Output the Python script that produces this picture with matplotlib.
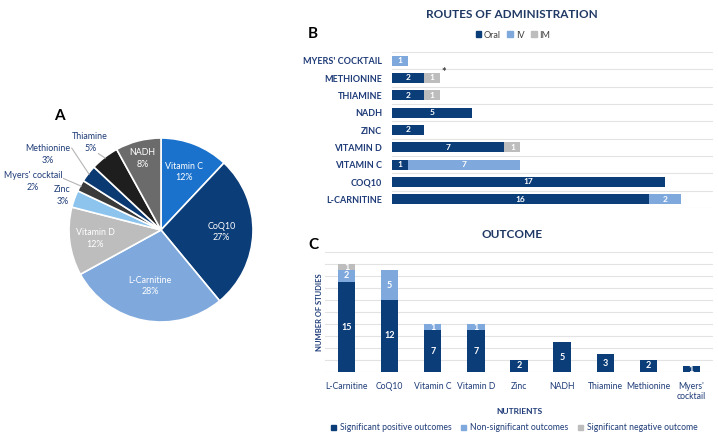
import numpy as np
import matplotlib.pyplot as plt
from matplotlib.patches import Patch

plt.rcParams['font.family'] = ['Lato', 'DejaVu Sans']

W, H = 718, 443
NAVY = '#0b3d78'
LIGHT = '#7fa9dd'
GREY = '#bdbdbd'
TXT = '#1f3c78'

# ---- data ----
pie_labels = ['Vitamin C', 'CoQ10', 'L-Carnitine', 'Vitamin D', 'Zinc',
              "Myers' cocktail", 'Methionine', 'Thiamine', 'NADH']
pie_pct = [12, 27, 28, 12, 3, 2, 3, 5, 8]
pie_colors = ['#1a72cc', '#0b3d78', '#7fa9dd', '#bdbdbd', '#8cc4ee',
              '#3a3a3a', '#0b3a72', '#1e1e1e', '#6b6b6b']

route_cats = ["MYERS' COCKTAIL", 'METHIONINE', 'THIAMINE', 'NADH', 'ZINC',
              'VITAMIN D', 'VITAMIN C', 'COQ10', 'L-CARNITINE']
route_oral = [0, 2, 2, 5, 2, 7, 1, 17, 16]
route_iv = [1, 0, 0, 0, 0, 0, 7, 0, 2]
route_im = [0, 1, 1, 0, 0, 1, 0, 0, 0]

out_cats = ['L-Carnitine', 'CoQ10', 'Vitamin C', 'Vitamin D', 'Zinc', 'NADH',
            'Thiamine', 'Methionine', "Myers'\ncocktail"]
out_pos = [15, 12, 7, 7, 2, 5, 3, 2, 1]
out_ns = [2, 5, 1, 1, 0, 0, 0, 0, 0]
out_neg = [1, 0, 0, 0, 0, 0, 0, 0, 0]


def px_axes(fig, left, top, right, bottom):
    return fig.add_axes([left / W, 1 - bottom / H, (right - left) / W, (bottom - top) / H])


fig = plt.figure(figsize=(W / 100, H / 100), dpi=100)
fig.patch.set_facecolor('white')

# ---- A: pie ----
cx, cy, r = 161, 230, 92
axA = px_axes(fig, cx - r, cy - r, cx + r, cy + r)
wedges, _ = axA.pie(pie_pct, colors=pie_colors, startangle=90, counterclock=False,
                    wedgeprops=dict(edgecolor='white', linewidth=1.2))
axA.set_xlim(-1, 1)
axA.set_ylim(-1, 1)
axA.set_aspect('auto')
axA.axis('off')

inner_r = {'Vitamin C': 0.68, 'CoQ10': 0.66, 'L-Carnitine': 0.62,
           'Vitamin D': 0.72, 'NADH': 0.8}
outer_pos = {'Zinc': (-1.07, 0.37), "Myers' cocktail": (-1.39, 0.53),
             'Methionine': (-1.23, 0.82), 'Thiamine': (-0.77, 0.95)}
# leader line start, just off the label
line_start = {"Myers' cocktail": (-1.06, 0.56), 'Methionine': (-0.97, 0.89),
              'Thiamine': (-0.68, 0.83)}
dy = 0.065
for w, lab, p in zip(wedges, pie_labels, pie_pct):
    mid = np.deg2rad((w.theta1 + w.theta2) / 2)
    if lab in inner_r:
        rr = inner_r[lab]
        axA.text(rr * np.cos(mid), rr * np.sin(mid), f'{lab}\n{p}%', ha='center',
                 va='center', fontsize=6.4, color='white', linespacing=1.35)
    else:
        tx, ty = outer_pos[lab]
        axA.text(tx, ty + dy, lab, ha='center', va='center', fontsize=6.4, color=TXT)
        axA.text(tx, ty - dy, f'{p}%', ha='center', va='center', fontsize=6.4, color=TXT)
        if lab in line_start:
            sx, sy = line_start[lab]
            axA.plot([sx, 0.99 * np.cos(mid)], [sy, 0.99 * np.sin(mid)],
                     color='#b5b5b5', lw=0.8, clip_on=False)
fig.text(59 / W, 1 - 116 / H, 'A', fontsize=11, fontweight='bold', ha='center', va='center')

# ---- B: routes ----
axB = px_axes(fig, 392, 52, 713, 208)
yb = np.arange(len(route_cats))[::-1]
bh = 0.58
left = np.zeros(len(route_cats))
for vals, col in [(route_oral, NAVY), (route_iv, LIGHT), (route_im, GREY)]:
    vals = np.array(vals)
    axB.barh(yb, vals, left=left, height=bh, color=col)
    for y, l, v in zip(yb, left, vals):
        if v > 0:
            axB.text(l + v / 2, y, str(v), ha='center', va='center', fontsize=6,
                     color='white', fontweight='bold')
    left = left + vals
axB.set_xlim(0, 20)
axB.set_ylim(-0.5, len(route_cats) - 0.5)
axB.set_yticks(yb)
axB.set_yticklabels(route_cats, fontsize=6.5, fontweight='bold', color=TXT)
axB.set_yticks(np.arange(-0.5, len(route_cats)), minor=True)
axB.grid(True, axis='y', which='minor', color='#e3e3e3', lw=0.8)
axB.tick_params(axis='y', which='both', length=0, pad=7)
axB.set_xticks([])
for s in axB.spines.values():
    s.set_visible(False)
im = route_cats.index('METHIONINE')
axB.text(route_oral[im] + route_iv[im] + route_im[im] + 0.1, yb[im] + 0.3, '*',
         fontsize=8, fontweight='bold', color='#333333', ha='left', va='center')
hB = [Patch(color=NAVY, label='Oral'), Patch(color=LIGHT, label='IV'), Patch(color=GREY, label='IM')]
fig.legend(handles=hB, loc='center', bbox_to_anchor=(513 / W, 1 - 35 / H), ncol=3,
           frameon=False, fontsize=6.5, handlelength=0.65, handleheight=0.65,
           handletextpad=0.3, columnspacing=0.7, labelcolor='#404040')
fig.text(512 / W, 1 - 15 / H, 'ROUTES OF ADMINISTRATION', fontsize=8.5, fontweight='bold',
         color='#1f3864', ha='center', va='center')
fig.text(313 / W, 1 - 34 / H, 'B', fontsize=11, fontweight='bold', ha='center', va='center')

# ---- C: outcome ----
axC = px_axes(fig, 325, 252, 713, 372)
xc = np.arange(len(out_cats))
bw = 0.4
bottom = np.zeros(len(out_cats))
for vals, col in [(out_pos, NAVY), (out_ns, LIGHT), (out_neg, GREY)]:
    vals = np.array(vals)
    axC.bar(xc, vals, bottom=bottom, width=bw, color=col, zorder=2)
    for x, b, v in zip(xc, bottom, vals):
        if v > 0:
            axC.text(x, b + v / 2, str(v), ha='center', va='center', fontsize=6.5,
                     color='white', fontweight='bold', zorder=3)
    bottom = bottom + vals
axC.set_xlim(-0.5, len(out_cats) - 0.5)
axC.set_ylim(0, 20)
axC.set_yticks(np.arange(0, 21, 2))
axC.set_yticklabels([])
axC.grid(True, axis='y', color='#e3e3e3', lw=0.8, zorder=0)
axC.tick_params(axis='both', length=0)
axC.set_xticks(xc)
axC.set_xticklabels(out_cats, fontsize=6.2, color=TXT, linespacing=1.15, va='top')
axC.tick_params(axis='x', pad=7)
for s in axC.spines.values():
    s.set_visible(False)
axC.set_xlabel('NUTRIENTS', fontsize=6, fontweight='bold', color=TXT, labelpad=5)
fig.text(319 / W, 1 - 312 / H, 'NUMBER OF STUDIES', fontsize=5.5, fontweight='bold',
         color=TXT, rotation=90, ha='center', va='center')
fig.text(512 / W, 1 - 235 / H, 'OUTCOME', fontsize=8.5, fontweight='bold',
         color='#1f3864', ha='center', va='center')
fig.text(313 / W, 1 - 245 / H, 'C', fontsize=11, fontweight='bold', ha='center', va='center')
hC = [Patch(color=NAVY, label='Significant positive outcomes'),
      Patch(color=LIGHT, label='Non-significant outcomes'),
      Patch(color=GREY, label='Significant negative outcome')]
fig.legend(handles=hC, loc='center', bbox_to_anchor=(514 / W, 1 - 428 / H), ncol=3,
           frameon=False, fontsize=6.2, handlelength=0.65, handleheight=0.65,
           handletextpad=0.4, columnspacing=1.1, labelcolor=TXT)

fig.savefig('out.png', dpi=100)
